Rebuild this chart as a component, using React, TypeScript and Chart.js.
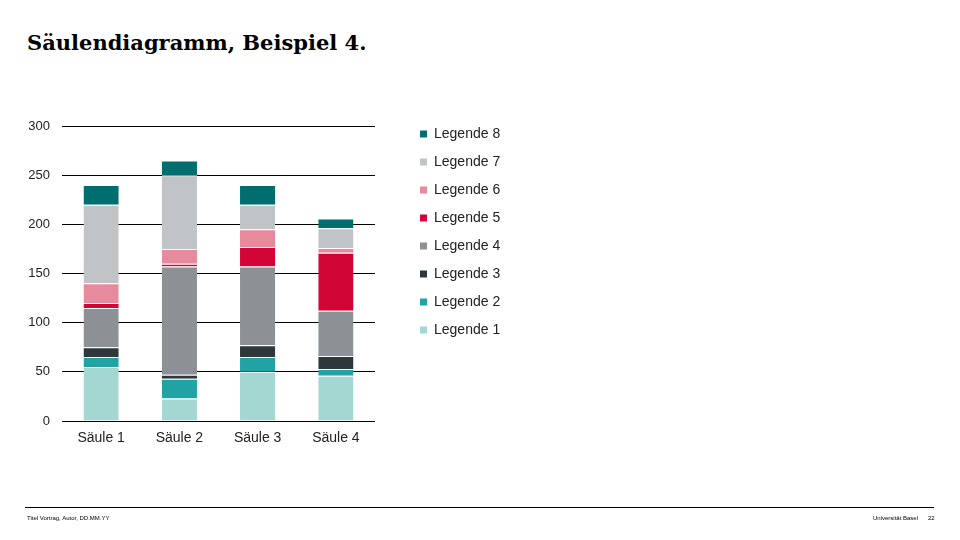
import React, { useEffect, useRef } from "react";
import { Chart, registerables } from "chart.js";

Chart.register(...registerables);

const categories = ["Säule 1", "Säule 2", "Säule 3", "Säule 4"];
const seriesNames = ["Legende 1", "Legende 2", "Legende 3", "Legende 4", "Legende 5", "Legende 6", "Legende 7", "Legende 8"];
const legende1 = [55, 23, 50, 46];
const legende2 = [10, 20, 15, 7];
const legende3 = [10, 4, 12, 13];
const legende4 = [40, 110, 80, 46];
const legende5 = [5, 3, 20, 59];
const legende6 = [20, 15, 18, 5];
const legende7 = [80, 75, 25, 20];
const legende8 = [20, 15, 20, 10];
const seriesValues = [legende1, legende2, legende3, legende4, legende5, legende6, legende7, legende8];
const seriesColors = ["#a5d7d2", "#21a3a3", "#2d373c", "#8c9196", "#d20537", "#e88a9d", "#c0c4c7", "#006e6e"];
const yMin = 0;
const yMax = 300;
const yStep = 50;

const LEGEND_LEFT = 406;
const LEGEND_TOP = 113;
const LEGEND_BOX_W = 585;

const legendPlacer = {
  id: "legendPlacer",
  beforeLayout(chart: any) {
    const lg: any = chart.legend;
    if (lg && !lg.__wrapped) {
      const orig = lg.fit;
      lg.fit = function () {
        orig.call(this);
        this.width = LEGEND_BOX_W;
      };
      lg.__wrapped = true;
    }
  },
  afterLayout(chart: any) {
    const lg: any = chart.legend;
    if (!lg) return;
    const w = lg.width;
    const h = lg.height;
    lg.left = LEGEND_LEFT;
    lg.right = LEGEND_LEFT + w;
    lg.top = LEGEND_TOP;
    lg.bottom = LEGEND_TOP + h;
  },
};

export default function App() {
  const canvasRef = useRef<HTMLCanvasElement | null>(null);

  useEffect(() => {
    if (!canvasRef.current) return;
    const chart = new Chart(canvasRef.current, {
      type: "bar",
      data: {
        labels: categories,
        datasets: seriesNames.map((name, i) => ({
          label: name,
          data: seriesValues[i],
          backgroundColor: seriesColors[i],
          borderColor: "#ffffff",
          borderWidth: { top: 1, bottom: 0, left: 0, right: 0 },
          borderSkipped: false,
          categoryPercentage: 1,
          barPercentage: 0.45,
        })),
      },
      options: {
        animation: false,
        responsive: false,
        maintainAspectRatio: false,
        layout: { padding: { top: 126, left: 0, right: 0, bottom: 89 } },
        plugins: {
          title: { display: false },
          tooltip: { enabled: false },
          legend: {
            display: true,
            position: "right",
            align: "start",
            reverse: true,
            labels: {
              boxWidth: 7,
              boxHeight: 7,
              padding: 14,
              color: "#222222",
              font: { family: "'Liberation Sans', Arial, sans-serif", size: 14 },
              generateLabels: (c: any) =>
                (Chart.defaults.plugins.legend.labels as any).generateLabels(c).map((l: any) => ({ ...l, lineWidth: 0 })),
            },
          },
        },
        scales: {
          x: {
            stacked: true,
            grid: { display: false, drawTicks: false },
            border: { display: false },
            ticks: {
              padding: 9,
              color: "#222222",
              font: { family: "'Liberation Sans', Arial, sans-serif", size: 14 },
            },
            afterFit: (s: any) => {
              s.height = 30;
            },
          },
          y: {
            stacked: true,
            min: yMin,
            max: yMax,
            grid: { color: "#000000", lineWidth: 1, drawTicks: false },
            border: { display: false },
            ticks: {
              stepSize: yStep,
              padding: 12,
              color: "#222222",
              font: { family: "'Liberation Sans', Arial, sans-serif", size: 13 },
            },
            afterFit: (s: any) => {
              s.width = 62;
            },
          },
        },
      },
      plugins: [legendPlacer],
    } as any);
    return () => chart.destroy();
  }, []);

  const footStyle: React.CSSProperties = {
    position: "absolute",
    top: 514,
    fontFamily: "'Liberation Sans', Arial, sans-serif",
    fontSize: 6,
    color: "#000",
    whiteSpace: "nowrap",
    lineHeight: "8px",
  };

  return (
    <div style={{ position: "absolute", left: 0, top: 0, width: 960, height: 540, background: "#fff", overflow: "hidden" }}>
      <div
        style={{
          position: "absolute",
          left: 27,
          top: 29,
          fontFamily: "'DejaVu Serif', serif",
          fontWeight: "bold",
          fontSize: 21,
          color: "#000",
          whiteSpace: "nowrap",
          lineHeight: "28px",
        }}
      >
        Säulendiagramm, Beispiel 4.
      </div>
      <canvas ref={canvasRef} width={960} height={540} style={{ position: "absolute", left: 0, top: 0, width: 960, height: 540 }} />
      <div style={{ position: "absolute", left: 25, top: 507, width: 909, height: 1, background: "#000" }} />
      <div style={{ ...footStyle, left: 27 }}>Titel Vortrag, Autor, DD.MM.YY</div>
      <div style={{ ...footStyle, right: 42 }}>Universität Basel</div>
      <div style={{ ...footStyle, left: 928 }}>22</div>
    </div>
  );
}
